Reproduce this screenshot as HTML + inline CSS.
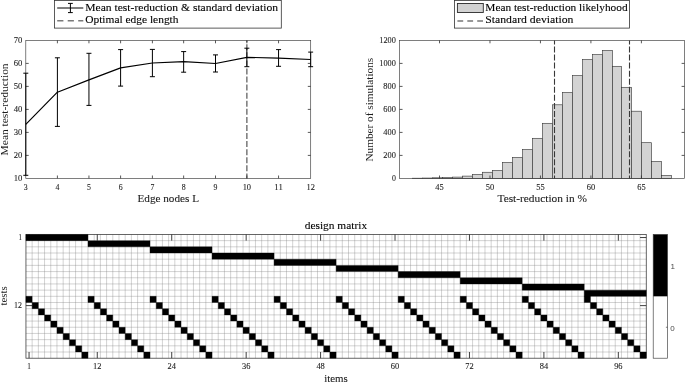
<!DOCTYPE html>
<html lang="en">
<head>
<meta charset="utf-8">
<title>design matrix figure</title>
<style>
html,body{margin:0;padding:0;background:#fff;}
body{width:685px;height:382px;overflow:hidden;}
svg{display:block;font-family:"Liberation Serif", "DejaVu Serif", serif;}
</style>
</head>
<body>
<svg width="685" height="382" viewBox="0 0 685 382">
<rect width="685" height="382" fill="#fff"/>
<g id="left-plot">
<line x1="246.85" y1="40.4" x2="246.85" y2="178.4" stroke="#787878" stroke-width="1.5" stroke-dasharray="6 2.07" stroke-dashoffset="4.2"/>
<rect x="25.8" y="40.4" width="284.9" height="138" fill="none" stroke="#3a3a3a" stroke-width="0.65"/>
<line x1="57.4" y1="178.4" x2="57.4" y2="175.5" stroke="#2e2e2e" stroke-width="0.8" />
<line x1="57.4" y1="40.4" x2="57.4" y2="43.3" stroke="#2e2e2e" stroke-width="0.8" />
<line x1="88.95" y1="178.4" x2="88.95" y2="175.5" stroke="#2e2e2e" stroke-width="0.8" />
<line x1="88.95" y1="40.4" x2="88.95" y2="43.3" stroke="#2e2e2e" stroke-width="0.8" />
<line x1="120.6" y1="178.4" x2="120.6" y2="175.5" stroke="#2e2e2e" stroke-width="0.8" />
<line x1="120.6" y1="40.4" x2="120.6" y2="43.3" stroke="#2e2e2e" stroke-width="0.8" />
<line x1="152.4" y1="178.4" x2="152.4" y2="175.5" stroke="#2e2e2e" stroke-width="0.8" />
<line x1="152.4" y1="40.4" x2="152.4" y2="43.3" stroke="#2e2e2e" stroke-width="0.8" />
<line x1="183.65" y1="178.4" x2="183.65" y2="175.5" stroke="#2e2e2e" stroke-width="0.8" />
<line x1="183.65" y1="40.4" x2="183.65" y2="43.3" stroke="#2e2e2e" stroke-width="0.8" />
<line x1="215.5" y1="178.4" x2="215.5" y2="175.5" stroke="#2e2e2e" stroke-width="0.8" />
<line x1="215.5" y1="40.4" x2="215.5" y2="43.3" stroke="#2e2e2e" stroke-width="0.8" />
<line x1="246.85" y1="178.4" x2="246.85" y2="175.5" stroke="#2e2e2e" stroke-width="0.8" />
<line x1="246.85" y1="40.4" x2="246.85" y2="43.3" stroke="#2e2e2e" stroke-width="0.8" />
<line x1="278.55" y1="178.4" x2="278.55" y2="175.5" stroke="#2e2e2e" stroke-width="0.8" />
<line x1="278.55" y1="40.4" x2="278.55" y2="43.3" stroke="#2e2e2e" stroke-width="0.8" />
<line x1="25.8" y1="155.4" x2="28.7" y2="155.4" stroke="#2e2e2e" stroke-width="0.8" />
<line x1="310.7" y1="155.4" x2="307.8" y2="155.4" stroke="#2e2e2e" stroke-width="0.8" />
<line x1="25.8" y1="132.4" x2="28.7" y2="132.4" stroke="#2e2e2e" stroke-width="0.8" />
<line x1="310.7" y1="132.4" x2="307.8" y2="132.4" stroke="#2e2e2e" stroke-width="0.8" />
<line x1="25.8" y1="109.4" x2="28.7" y2="109.4" stroke="#2e2e2e" stroke-width="0.8" />
<line x1="310.7" y1="109.4" x2="307.8" y2="109.4" stroke="#2e2e2e" stroke-width="0.8" />
<line x1="25.8" y1="86.4" x2="28.7" y2="86.4" stroke="#2e2e2e" stroke-width="0.8" />
<line x1="310.7" y1="86.4" x2="307.8" y2="86.4" stroke="#2e2e2e" stroke-width="0.8" />
<line x1="25.8" y1="63.4" x2="28.7" y2="63.4" stroke="#2e2e2e" stroke-width="0.8" />
<line x1="310.7" y1="63.4" x2="307.8" y2="63.4" stroke="#2e2e2e" stroke-width="0.8" />
<clipPath id="cl"><rect x="22.9" y="40.4" width="290.7" height="138"/></clipPath>
<g clip-path="url(#cl)" stroke="#000" stroke-width="1" fill="none">
<path d="M25.8 73.2V175.3M23.3 73.2H28.3M23.3 175.3H28.3"/>
<path d="M57.4 57.8V126.4M54.9 57.8H59.9M54.9 126.4H59.9"/>
<path d="M88.95 53.3V105.4M86.45 53.3H91.45M86.45 105.4H91.45"/>
<path d="M120.6 49.6V86.1M118.1 49.6H123.1M118.1 86.1H123.1"/>
<path d="M152.4 49.4V76.7M149.9 49.4H154.9M149.9 76.7H154.9"/>
<path d="M183.65 51.6V72.2M181.15 51.6H186.15M181.15 72.2H186.15"/>
<path d="M215.5 54.9V72M213 54.9H218M213 72H218"/>
<path d="M246.85 48.2V66.7M244.35 48.2H249.35M244.35 66.7H249.35"/>
<path d="M278.55 49.6V66.3M276.05 49.6H281.05M276.05 66.3H281.05"/>
<path d="M310.7 52.1V66.7M308.2 52.1H313.2M308.2 66.7H313.2"/>
<polyline points="25.8,124.4 57.4,92.2 88.95,79.9 120.6,67.85 152.4,63 183.65,61.65 215.5,63.5 246.85,57.3 278.55,58.1 310.7,59.5" stroke-linejoin="round" stroke-width="1.2"/>
</g>
<text x="22.4" y="181.25" font-size="8.7" text-anchor="end" fill="#1c1c1c" stroke="#1c1c1c" stroke-width="0.1" textLength="8.6" lengthAdjust="spacingAndGlyphs" >10</text>
<text x="22.4" y="158.25" font-size="8.7" text-anchor="end" fill="#1c1c1c" stroke="#1c1c1c" stroke-width="0.1" textLength="8.6" lengthAdjust="spacingAndGlyphs" >20</text>
<text x="22.4" y="135.25" font-size="8.7" text-anchor="end" fill="#1c1c1c" stroke="#1c1c1c" stroke-width="0.1" textLength="8.6" lengthAdjust="spacingAndGlyphs" >30</text>
<text x="22.4" y="112.25" font-size="8.7" text-anchor="end" fill="#1c1c1c" stroke="#1c1c1c" stroke-width="0.1" textLength="8.6" lengthAdjust="spacingAndGlyphs" >40</text>
<text x="22.4" y="89.25" font-size="8.7" text-anchor="end" fill="#1c1c1c" stroke="#1c1c1c" stroke-width="0.1" textLength="8.6" lengthAdjust="spacingAndGlyphs" >50</text>
<text x="22.4" y="66.25" font-size="8.7" text-anchor="end" fill="#1c1c1c" stroke="#1c1c1c" stroke-width="0.1" textLength="8.6" lengthAdjust="spacingAndGlyphs" >60</text>
<text x="22.4" y="43.25" font-size="8.7" text-anchor="end" fill="#1c1c1c" stroke="#1c1c1c" stroke-width="0.1" textLength="8.6" lengthAdjust="spacingAndGlyphs" >70</text>
<text x="25.8" y="189.7" font-size="8.7" text-anchor="middle" fill="#1c1c1c" stroke="#1c1c1c" stroke-width="0.1" textLength="3.9" lengthAdjust="spacingAndGlyphs" >3</text>
<text x="57.4" y="189.7" font-size="8.7" text-anchor="middle" fill="#1c1c1c" stroke="#1c1c1c" stroke-width="0.1" textLength="3.9" lengthAdjust="spacingAndGlyphs" >4</text>
<text x="88.95" y="189.7" font-size="8.7" text-anchor="middle" fill="#1c1c1c" stroke="#1c1c1c" stroke-width="0.1" textLength="3.9" lengthAdjust="spacingAndGlyphs" >5</text>
<text x="120.6" y="189.7" font-size="8.7" text-anchor="middle" fill="#1c1c1c" stroke="#1c1c1c" stroke-width="0.1" textLength="3.9" lengthAdjust="spacingAndGlyphs" >6</text>
<text x="152.4" y="189.7" font-size="8.7" text-anchor="middle" fill="#1c1c1c" stroke="#1c1c1c" stroke-width="0.1" textLength="3.9" lengthAdjust="spacingAndGlyphs" >7</text>
<text x="183.65" y="189.7" font-size="8.7" text-anchor="middle" fill="#1c1c1c" stroke="#1c1c1c" stroke-width="0.1" textLength="3.9" lengthAdjust="spacingAndGlyphs" >8</text>
<text x="215.5" y="189.7" font-size="8.7" text-anchor="middle" fill="#1c1c1c" stroke="#1c1c1c" stroke-width="0.1" textLength="3.9" lengthAdjust="spacingAndGlyphs" >9</text>
<text x="246.85" y="189.7" font-size="8.7" text-anchor="middle" fill="#1c1c1c" stroke="#1c1c1c" stroke-width="0.1" textLength="8.4" lengthAdjust="spacingAndGlyphs" >10</text>
<text x="278.55" y="189.7" font-size="8.7" text-anchor="middle" fill="#1c1c1c" stroke="#1c1c1c" stroke-width="0.1" textLength="8.4" lengthAdjust="spacingAndGlyphs" >11</text>
<text x="310.7" y="189.7" font-size="8.7" text-anchor="middle" fill="#1c1c1c" stroke="#1c1c1c" stroke-width="0.1" textLength="8.4" lengthAdjust="spacingAndGlyphs" >12</text>
<text x="168.25" y="202.15" font-size="11" text-anchor="middle" fill="#1c1c1c" stroke="#1c1c1c" stroke-width="0.1" textLength="61.5" lengthAdjust="spacingAndGlyphs" >Edge nodes L</text>
<text x="7.6" y="109.4" font-size="11" text-anchor="middle" fill="#1c1c1c" textLength="92" lengthAdjust="spacingAndGlyphs" transform="rotate(-90 7.6 109.4)" >Mean test-reduction</text>
<rect x="54.4" y="0.4" width="226.9" height="27.7" fill="#fff" stroke="#333" stroke-width="0.8"/>
<line x1="57.2" y1="8" x2="83.3" y2="8" stroke="#000" stroke-width="1" />
<path d="M70.4 3.4V12.6M68 3.4H72.8M68 12.6H72.8" stroke="#000" stroke-width="1" fill="none"/>
<line x1="57.2" y1="20.75" x2="83.3" y2="20.75" stroke="#7a7a7a" stroke-width="1.3" stroke-dasharray="6.2 4.3"/>
<text x="85.3" y="10.65" font-size="10.7" text-anchor="start" fill="#000" stroke="#000" stroke-width="0.1" textLength="192.7" lengthAdjust="spacingAndGlyphs" >Mean test-reduction &amp; standard deviation</text>
<text x="85.2" y="23.4" font-size="10.7" text-anchor="start" fill="#000" stroke="#000" stroke-width="0.1" textLength="93.3" lengthAdjust="spacingAndGlyphs" >Optimal edge length</text>
</g>
<g id="right-plot">
<g fill="#d3d3d3" stroke="#333" stroke-width="0.62">
<rect x="412.5" y="178.2" width="10" height="0.2"/>
<rect x="422.5" y="178.05" width="10" height="0.35"/>
<rect x="432.5" y="177.8" width="10" height="0.6"/>
<rect x="442.5" y="177.6" width="10" height="0.8"/>
<rect x="452.5" y="177.1" width="10" height="1.3"/>
<rect x="462.5" y="176.1" width="10" height="2.3"/>
<rect x="472.5" y="174.5" width="10" height="3.9"/>
<rect x="482.5" y="172.25" width="10" height="6.15"/>
<rect x="492.5" y="170.45" width="10" height="7.95"/>
<rect x="502.5" y="162.5" width="10" height="15.9"/>
<rect x="512.5" y="157.4" width="10" height="21"/>
<rect x="522.5" y="149.5" width="10" height="28.9"/>
<rect x="532.5" y="138.3" width="10" height="40.1"/>
<rect x="542.5" y="123.3" width="10" height="55.1"/>
<rect x="552.5" y="104.8" width="10" height="73.6"/>
<rect x="562.5" y="92.5" width="10" height="85.9"/>
<rect x="572.5" y="75.6" width="10" height="102.8"/>
<rect x="582.5" y="59.5" width="10" height="118.9"/>
<rect x="592.5" y="54.6" width="10" height="123.8"/>
<rect x="602.5" y="50.4" width="10" height="128"/>
<rect x="612.5" y="66.3" width="9" height="112.1"/>
<rect x="621.5" y="87.3" width="10" height="91.1"/>
<rect x="631.5" y="111.2" width="10" height="67.2"/>
<rect x="641.5" y="142.7" width="10" height="35.7"/>
<rect x="651.5" y="161.4" width="10" height="17"/>
<rect x="661.5" y="175.5" width="10" height="2.9"/>
</g>
<line x1="554.5" y1="40.4" x2="554.5" y2="178.4" stroke="#383838" stroke-width="1.1" stroke-dasharray="6 2.06" stroke-dashoffset="1.96"/>
<line x1="629.5" y1="40.4" x2="629.5" y2="178.4" stroke="#383838" stroke-width="1.1" stroke-dasharray="6 2.06" stroke-dashoffset="1.96"/>
<rect x="399.65" y="40.4" width="284.85" height="138" fill="none" stroke="#3a3a3a" stroke-width="0.65"/>
<line x1="439.5" y1="178.4" x2="439.5" y2="175.5" stroke="#2e2e2e" stroke-width="0.8" />
<line x1="439.5" y1="40.4" x2="439.5" y2="43.3" stroke="#2e2e2e" stroke-width="0.8" />
<line x1="489.98" y1="178.4" x2="489.98" y2="175.5" stroke="#2e2e2e" stroke-width="0.8" />
<line x1="489.98" y1="40.4" x2="489.98" y2="43.3" stroke="#2e2e2e" stroke-width="0.8" />
<line x1="540.45" y1="178.4" x2="540.45" y2="175.5" stroke="#2e2e2e" stroke-width="0.8" />
<line x1="540.45" y1="40.4" x2="540.45" y2="43.3" stroke="#2e2e2e" stroke-width="0.8" />
<line x1="590.92" y1="178.4" x2="590.92" y2="175.5" stroke="#2e2e2e" stroke-width="0.8" />
<line x1="590.92" y1="40.4" x2="590.92" y2="43.3" stroke="#2e2e2e" stroke-width="0.8" />
<line x1="641.4" y1="178.4" x2="641.4" y2="175.5" stroke="#2e2e2e" stroke-width="0.8" />
<line x1="641.4" y1="40.4" x2="641.4" y2="43.3" stroke="#2e2e2e" stroke-width="0.8" />
<line x1="399.65" y1="155.4" x2="402.55" y2="155.4" stroke="#2e2e2e" stroke-width="0.8" />
<line x1="684.5" y1="155.4" x2="681.6" y2="155.4" stroke="#2e2e2e" stroke-width="0.8" />
<line x1="399.65" y1="132.4" x2="402.55" y2="132.4" stroke="#2e2e2e" stroke-width="0.8" />
<line x1="684.5" y1="132.4" x2="681.6" y2="132.4" stroke="#2e2e2e" stroke-width="0.8" />
<line x1="399.65" y1="109.4" x2="402.55" y2="109.4" stroke="#2e2e2e" stroke-width="0.8" />
<line x1="684.5" y1="109.4" x2="681.6" y2="109.4" stroke="#2e2e2e" stroke-width="0.8" />
<line x1="399.65" y1="86.4" x2="402.55" y2="86.4" stroke="#2e2e2e" stroke-width="0.8" />
<line x1="684.5" y1="86.4" x2="681.6" y2="86.4" stroke="#2e2e2e" stroke-width="0.8" />
<line x1="399.65" y1="63.4" x2="402.55" y2="63.4" stroke="#2e2e2e" stroke-width="0.8" />
<line x1="684.5" y1="63.4" x2="681.6" y2="63.4" stroke="#2e2e2e" stroke-width="0.8" />
<text x="395.8" y="181.25" font-size="8.7" text-anchor="end" fill="#1c1c1c" stroke="#1c1c1c" stroke-width="0.1" textLength="3.9" lengthAdjust="spacingAndGlyphs" >0</text>
<text x="395.8" y="158.25" font-size="8.7" text-anchor="end" fill="#1c1c1c" stroke="#1c1c1c" stroke-width="0.1" textLength="12.5" lengthAdjust="spacingAndGlyphs" >200</text>
<text x="395.8" y="135.25" font-size="8.7" text-anchor="end" fill="#1c1c1c" stroke="#1c1c1c" stroke-width="0.1" textLength="12.5" lengthAdjust="spacingAndGlyphs" >400</text>
<text x="395.8" y="112.25" font-size="8.7" text-anchor="end" fill="#1c1c1c" stroke="#1c1c1c" stroke-width="0.1" textLength="12.5" lengthAdjust="spacingAndGlyphs" >600</text>
<text x="395.8" y="89.25" font-size="8.7" text-anchor="end" fill="#1c1c1c" stroke="#1c1c1c" stroke-width="0.1" textLength="12.5" lengthAdjust="spacingAndGlyphs" >800</text>
<text x="395.8" y="66.25" font-size="8.7" text-anchor="end" fill="#1c1c1c" stroke="#1c1c1c" stroke-width="0.1" textLength="16.5" lengthAdjust="spacingAndGlyphs" >1000</text>
<text x="395.8" y="43.25" font-size="8.7" text-anchor="end" fill="#1c1c1c" stroke="#1c1c1c" stroke-width="0.1" textLength="16.5" lengthAdjust="spacingAndGlyphs" >1200</text>
<text x="439.5" y="189.9" font-size="8.7" text-anchor="middle" fill="#1c1c1c" stroke="#1c1c1c" stroke-width="0.1" textLength="8.4" lengthAdjust="spacingAndGlyphs" >45</text>
<text x="489.98" y="189.9" font-size="8.7" text-anchor="middle" fill="#1c1c1c" stroke="#1c1c1c" stroke-width="0.1" textLength="8.4" lengthAdjust="spacingAndGlyphs" >50</text>
<text x="540.45" y="189.9" font-size="8.7" text-anchor="middle" fill="#1c1c1c" stroke="#1c1c1c" stroke-width="0.1" textLength="8.4" lengthAdjust="spacingAndGlyphs" >55</text>
<text x="590.92" y="189.9" font-size="8.7" text-anchor="middle" fill="#1c1c1c" stroke="#1c1c1c" stroke-width="0.1" textLength="8.4" lengthAdjust="spacingAndGlyphs" >60</text>
<text x="641.4" y="189.9" font-size="8.7" text-anchor="middle" fill="#1c1c1c" stroke="#1c1c1c" stroke-width="0.1" textLength="8.4" lengthAdjust="spacingAndGlyphs" >65</text>
<text x="542.2" y="202.15" font-size="11" text-anchor="middle" fill="#1c1c1c" stroke="#1c1c1c" stroke-width="0.1" textLength="89.4" lengthAdjust="spacingAndGlyphs" >Test-reduction in %</text>
<text x="372.7" y="109.7" font-size="11" text-anchor="middle" fill="#1c1c1c" textLength="103.7" lengthAdjust="spacingAndGlyphs" transform="rotate(-90 372.7 109.7)" >Number of simulations</text>
<rect x="454.4" y="0.4" width="175.1" height="27.7" fill="#fff" stroke="#333" stroke-width="0.8"/>
<rect x="457.4" y="3.5" width="25.9" height="9.0" fill="#d3d3d3" stroke="#2a2a2a" stroke-width="0.9"/>
<line x1="457.4" y1="21" x2="483.2" y2="21" stroke="#333" stroke-width="1.1" stroke-dasharray="5.8 4.1"/>
<text x="485.3" y="10.65" font-size="10.7" text-anchor="start" fill="#000" stroke="#000" stroke-width="0.1" textLength="142.3" lengthAdjust="spacingAndGlyphs" >Mean test-reduction likelyhood</text>
<text x="485.3" y="23.4" font-size="10.7" text-anchor="start" fill="#000" stroke="#000" stroke-width="0.1" textLength="88.1" lengthAdjust="spacingAndGlyphs" >Standard deviation</text>
</g>
<g id="design-matrix">
<path d="M32.15 234.45V358.2M38.36 234.45V358.2M44.56 234.45V358.2M50.76 234.45V358.2M56.96 234.45V358.2M63.17 234.45V358.2M69.37 234.45V358.2M75.57 234.45V358.2M81.78 234.45V358.2M87.98 234.45V358.2M94.18 234.45V358.2M100.39 234.45V358.2M106.59 234.45V358.2M112.79 234.45V358.2M118.99 234.45V358.2M125.2 234.45V358.2M131.4 234.45V358.2M137.6 234.45V358.2M143.81 234.45V358.2M150.01 234.45V358.2M156.21 234.45V358.2M162.42 234.45V358.2M168.62 234.45V358.2M174.82 234.45V358.2M181.02 234.45V358.2M187.23 234.45V358.2M193.43 234.45V358.2M199.63 234.45V358.2M205.84 234.45V358.2M212.04 234.45V358.2M218.24 234.45V358.2M224.45 234.45V358.2M230.65 234.45V358.2M236.85 234.45V358.2M243.05 234.45V358.2M249.26 234.45V358.2M255.46 234.45V358.2M261.66 234.45V358.2M267.87 234.45V358.2M274.07 234.45V358.2M280.27 234.45V358.2M286.48 234.45V358.2M292.68 234.45V358.2M298.88 234.45V358.2M305.08 234.45V358.2M311.29 234.45V358.2M317.49 234.45V358.2M323.69 234.45V358.2M329.9 234.45V358.2M336.1 234.45V358.2M342.3 234.45V358.2M348.51 234.45V358.2M354.71 234.45V358.2M360.91 234.45V358.2M367.11 234.45V358.2M373.32 234.45V358.2M379.52 234.45V358.2M385.72 234.45V358.2M391.93 234.45V358.2M398.13 234.45V358.2M404.33 234.45V358.2M410.54 234.45V358.2M416.74 234.45V358.2M422.94 234.45V358.2M429.14 234.45V358.2M435.35 234.45V358.2M441.55 234.45V358.2M447.75 234.45V358.2M453.96 234.45V358.2M460.16 234.45V358.2M466.36 234.45V358.2M472.57 234.45V358.2M478.77 234.45V358.2M484.97 234.45V358.2M491.17 234.45V358.2M497.38 234.45V358.2M503.58 234.45V358.2M509.78 234.45V358.2M515.99 234.45V358.2M522.19 234.45V358.2M528.39 234.45V358.2M534.6 234.45V358.2M540.8 234.45V358.2M547 234.45V358.2M553.21 234.45V358.2M559.41 234.45V358.2M565.61 234.45V358.2M571.81 234.45V358.2M578.02 234.45V358.2M584.22 234.45V358.2M590.42 234.45V358.2M596.63 234.45V358.2M602.83 234.45V358.2M609.03 234.45V358.2M615.24 234.45V358.2M621.44 234.45V358.2M627.64 234.45V358.2M633.84 234.45V358.2M640.05 234.45V358.2M25.95 240.64H646.25M25.95 246.82H646.25M25.95 253.01H646.25M25.95 259.2H646.25M25.95 265.39H646.25M25.95 271.57H646.25M25.95 277.76H646.25M25.95 283.95H646.25M25.95 290.14H646.25M25.95 296.32H646.25M25.95 302.51H646.25M25.95 308.7H646.25M25.95 314.89H646.25M25.95 321.07H646.25M25.95 327.26H646.25M25.95 333.45H646.25M25.95 339.64H646.25M25.95 345.82H646.25M25.95 352.01H646.25" stroke="#808080" stroke-width="0.35" fill="none"/>
<rect x="25.95" y="234.45" width="620.3" height="123.75" fill="none" stroke="#333" stroke-width="0.75"/>
<line x1="29.05" y1="358.2" x2="29.05" y2="352" stroke="#2a2a2a" stroke-width="0.9" />
<line x1="29.05" y1="234.45" x2="29.05" y2="240.65" stroke="#2a2a2a" stroke-width="0.9" />
<text x="29.05" y="369.4" font-size="8.7" text-anchor="middle" fill="#1c1c1c" stroke="#1c1c1c" stroke-width="0.1" textLength="3.6" lengthAdjust="spacingAndGlyphs" >1</text>
<line x1="97.28" y1="358.2" x2="97.28" y2="352" stroke="#2a2a2a" stroke-width="0.9" />
<line x1="97.28" y1="234.45" x2="97.28" y2="240.65" stroke="#2a2a2a" stroke-width="0.9" />
<text x="97.28" y="369.4" font-size="8.7" text-anchor="middle" fill="#1c1c1c" stroke="#1c1c1c" stroke-width="0.1" textLength="8.4" lengthAdjust="spacingAndGlyphs" >12</text>
<line x1="171.72" y1="358.2" x2="171.72" y2="352" stroke="#2a2a2a" stroke-width="0.9" />
<line x1="171.72" y1="234.45" x2="171.72" y2="240.65" stroke="#2a2a2a" stroke-width="0.9" />
<text x="171.72" y="369.4" font-size="8.7" text-anchor="middle" fill="#1c1c1c" stroke="#1c1c1c" stroke-width="0.1" textLength="8.4" lengthAdjust="spacingAndGlyphs" >24</text>
<line x1="246.16" y1="358.2" x2="246.16" y2="352" stroke="#2a2a2a" stroke-width="0.9" />
<line x1="246.16" y1="234.45" x2="246.16" y2="240.65" stroke="#2a2a2a" stroke-width="0.9" />
<text x="246.16" y="369.4" font-size="8.7" text-anchor="middle" fill="#1c1c1c" stroke="#1c1c1c" stroke-width="0.1" textLength="8.4" lengthAdjust="spacingAndGlyphs" >36</text>
<line x1="320.59" y1="358.2" x2="320.59" y2="352" stroke="#2a2a2a" stroke-width="0.9" />
<line x1="320.59" y1="234.45" x2="320.59" y2="240.65" stroke="#2a2a2a" stroke-width="0.9" />
<text x="320.59" y="369.4" font-size="8.7" text-anchor="middle" fill="#1c1c1c" stroke="#1c1c1c" stroke-width="0.1" textLength="8.4" lengthAdjust="spacingAndGlyphs" >48</text>
<line x1="395.03" y1="358.2" x2="395.03" y2="352" stroke="#2a2a2a" stroke-width="0.9" />
<line x1="395.03" y1="234.45" x2="395.03" y2="240.65" stroke="#2a2a2a" stroke-width="0.9" />
<text x="395.03" y="369.4" font-size="8.7" text-anchor="middle" fill="#1c1c1c" stroke="#1c1c1c" stroke-width="0.1" textLength="8.4" lengthAdjust="spacingAndGlyphs" >60</text>
<line x1="469.46" y1="358.2" x2="469.46" y2="352" stroke="#2a2a2a" stroke-width="0.9" />
<line x1="469.46" y1="234.45" x2="469.46" y2="240.65" stroke="#2a2a2a" stroke-width="0.9" />
<text x="469.46" y="369.4" font-size="8.7" text-anchor="middle" fill="#1c1c1c" stroke="#1c1c1c" stroke-width="0.1" textLength="8.4" lengthAdjust="spacingAndGlyphs" >72</text>
<line x1="543.9" y1="358.2" x2="543.9" y2="352" stroke="#2a2a2a" stroke-width="0.9" />
<line x1="543.9" y1="234.45" x2="543.9" y2="240.65" stroke="#2a2a2a" stroke-width="0.9" />
<text x="543.9" y="369.4" font-size="8.7" text-anchor="middle" fill="#1c1c1c" stroke="#1c1c1c" stroke-width="0.1" textLength="8.4" lengthAdjust="spacingAndGlyphs" >84</text>
<line x1="618.34" y1="358.2" x2="618.34" y2="352" stroke="#2a2a2a" stroke-width="0.9" />
<line x1="618.34" y1="234.45" x2="618.34" y2="240.65" stroke="#2a2a2a" stroke-width="0.9" />
<text x="618.34" y="369.4" font-size="8.7" text-anchor="middle" fill="#1c1c1c" stroke="#1c1c1c" stroke-width="0.1" textLength="8.4" lengthAdjust="spacingAndGlyphs" >96</text>
<line x1="25.95" y1="237.54" x2="32.15" y2="237.54" stroke="#2a2a2a" stroke-width="0.9" />
<line x1="646.25" y1="237.54" x2="640.05" y2="237.54" stroke="#2a2a2a" stroke-width="0.9" />
<text x="22" y="240.24" font-size="8.7" text-anchor="end" fill="#1c1c1c" stroke="#1c1c1c" stroke-width="0.1" textLength="3.4" lengthAdjust="spacingAndGlyphs" >1</text>
<line x1="25.95" y1="305.61" x2="32.15" y2="305.61" stroke="#2a2a2a" stroke-width="0.9" />
<line x1="646.25" y1="305.61" x2="640.05" y2="305.61" stroke="#2a2a2a" stroke-width="0.9" />
<text x="22" y="308.31" font-size="8.7" text-anchor="end" fill="#1c1c1c" stroke="#1c1c1c" stroke-width="0.1" textLength="7.9" lengthAdjust="spacingAndGlyphs" >12</text>
<path d="M25.95 234.45h62.03v6.19h-62.03zM87.98 240.64h62.03v6.19h-62.03zM150.01 246.82h62.03v6.19h-62.03zM212.04 253.01h62.03v6.19h-62.03zM274.07 259.2h62.03v6.19h-62.03zM336.1 265.39h62.03v6.19h-62.03zM398.13 271.57h62.03v6.19h-62.03zM460.16 277.76h62.03v6.19h-62.03zM522.19 283.95h62.03v6.19h-62.03zM584.22 290.14h62.03v6.19h-62.03zM25.95 296.32h6.2v6.19h-6.2zM32.15 302.51h6.2v6.19h-6.2zM38.36 308.7h6.2v6.19h-6.2zM44.56 314.89h6.2v6.19h-6.2zM50.76 321.07h6.2v6.19h-6.2zM56.96 327.26h6.2v6.19h-6.2zM63.17 333.45h6.2v6.19h-6.2zM69.37 339.64h6.2v6.19h-6.2zM75.57 345.82h6.2v6.19h-6.2zM81.78 352.01h6.2v6.19h-6.2zM87.98 296.32h6.2v6.19h-6.2zM94.18 302.51h6.2v6.19h-6.2zM100.39 308.7h6.2v6.19h-6.2zM106.59 314.89h6.2v6.19h-6.2zM112.79 321.07h6.2v6.19h-6.2zM118.99 327.26h6.2v6.19h-6.2zM125.2 333.45h6.2v6.19h-6.2zM131.4 339.64h6.2v6.19h-6.2zM137.6 345.82h6.2v6.19h-6.2zM143.81 352.01h6.2v6.19h-6.2zM150.01 296.32h6.2v6.19h-6.2zM156.21 302.51h6.2v6.19h-6.2zM162.42 308.7h6.2v6.19h-6.2zM168.62 314.89h6.2v6.19h-6.2zM174.82 321.07h6.2v6.19h-6.2zM181.02 327.26h6.2v6.19h-6.2zM187.23 333.45h6.2v6.19h-6.2zM193.43 339.64h6.2v6.19h-6.2zM199.63 345.82h6.2v6.19h-6.2zM205.84 352.01h6.2v6.19h-6.2zM212.04 296.32h6.2v6.19h-6.2zM218.24 302.51h6.2v6.19h-6.2zM224.45 308.7h6.2v6.19h-6.2zM230.65 314.89h6.2v6.19h-6.2zM236.85 321.07h6.2v6.19h-6.2zM243.05 327.26h6.2v6.19h-6.2zM249.26 333.45h6.2v6.19h-6.2zM255.46 339.64h6.2v6.19h-6.2zM261.66 345.82h6.2v6.19h-6.2zM267.87 352.01h6.2v6.19h-6.2zM274.07 296.32h6.2v6.19h-6.2zM280.27 302.51h6.2v6.19h-6.2zM286.48 308.7h6.2v6.19h-6.2zM292.68 314.89h6.2v6.19h-6.2zM298.88 321.07h6.2v6.19h-6.2zM305.08 327.26h6.2v6.19h-6.2zM311.29 333.45h6.2v6.19h-6.2zM317.49 339.64h6.2v6.19h-6.2zM323.69 345.82h6.2v6.19h-6.2zM329.9 352.01h6.2v6.19h-6.2zM336.1 296.32h6.2v6.19h-6.2zM342.3 302.51h6.2v6.19h-6.2zM348.51 308.7h6.2v6.19h-6.2zM354.71 314.89h6.2v6.19h-6.2zM360.91 321.07h6.2v6.19h-6.2zM367.11 327.26h6.2v6.19h-6.2zM373.32 333.45h6.2v6.19h-6.2zM379.52 339.64h6.2v6.19h-6.2zM385.72 345.82h6.2v6.19h-6.2zM391.93 352.01h6.2v6.19h-6.2zM398.13 296.32h6.2v6.19h-6.2zM404.33 302.51h6.2v6.19h-6.2zM410.54 308.7h6.2v6.19h-6.2zM416.74 314.89h6.2v6.19h-6.2zM422.94 321.07h6.2v6.19h-6.2zM429.14 327.26h6.2v6.19h-6.2zM435.35 333.45h6.2v6.19h-6.2zM441.55 339.64h6.2v6.19h-6.2zM447.75 345.82h6.2v6.19h-6.2zM453.96 352.01h6.2v6.19h-6.2zM460.16 296.32h6.2v6.19h-6.2zM466.36 302.51h6.2v6.19h-6.2zM472.57 308.7h6.2v6.19h-6.2zM478.77 314.89h6.2v6.19h-6.2zM484.97 321.07h6.2v6.19h-6.2zM491.17 327.26h6.2v6.19h-6.2zM497.38 333.45h6.2v6.19h-6.2zM503.58 339.64h6.2v6.19h-6.2zM509.78 345.82h6.2v6.19h-6.2zM515.99 352.01h6.2v6.19h-6.2zM522.19 296.32h6.2v6.19h-6.2zM528.39 302.51h6.2v6.19h-6.2zM534.6 308.7h6.2v6.19h-6.2zM540.8 314.89h6.2v6.19h-6.2zM547 321.07h6.2v6.19h-6.2zM553.21 327.26h6.2v6.19h-6.2zM559.41 333.45h6.2v6.19h-6.2zM565.61 339.64h6.2v6.19h-6.2zM571.81 345.82h6.2v6.19h-6.2zM578.02 352.01h6.2v6.19h-6.2zM584.22 296.32h6.2v6.19h-6.2zM590.42 302.51h6.2v6.19h-6.2zM596.63 308.7h6.2v6.19h-6.2zM602.83 314.89h6.2v6.19h-6.2zM609.03 321.07h6.2v6.19h-6.2zM615.24 327.26h6.2v6.19h-6.2zM621.44 333.45h6.2v6.19h-6.2zM627.64 339.64h6.2v6.19h-6.2zM633.84 345.82h6.2v6.19h-6.2zM640.05 352.01h6.2v6.19h-6.2z" fill="#000" stroke="#000" stroke-width="0.3"/>
<text x="335.9" y="228.7" font-size="11.2" text-anchor="middle" fill="#000" stroke="#000" stroke-width="0.1" textLength="62.4" lengthAdjust="spacingAndGlyphs" >design matrix</text>
<text x="336" y="381.8" font-size="11" text-anchor="middle" fill="#1c1c1c" stroke="#1c1c1c" stroke-width="0.1" textLength="23.6" lengthAdjust="spacingAndGlyphs" >items</text>
<text x="7.2" y="296" font-size="11" text-anchor="middle" fill="#1c1c1c" textLength="19.2" lengthAdjust="spacingAndGlyphs" transform="rotate(-90 7.2 296)" >tests</text>
<rect x="653.2" y="234.45" width="14.3" height="61.88" fill="#000"/>
<rect x="653.2" y="234.45" width="14.3" height="123.75" fill="none" stroke="#3a3a3a" stroke-width="0.65"/>
<line x1="667.5" y1="327.26" x2="665.9" y2="327.26" stroke="#3a3a3a" stroke-width="0.65" />
<text x="670.6" y="268.85" font-size="8" text-anchor="start" fill="#4a4a4a" font-family='"Liberation Sans", "DejaVu Sans", sans-serif' >1</text>
<text x="670.3" y="330.6" font-size="8" text-anchor="start" fill="#4a4a4a" font-family='"Liberation Sans", "DejaVu Sans", sans-serif' >0</text>
</g>
</svg>
</body>
</html>
